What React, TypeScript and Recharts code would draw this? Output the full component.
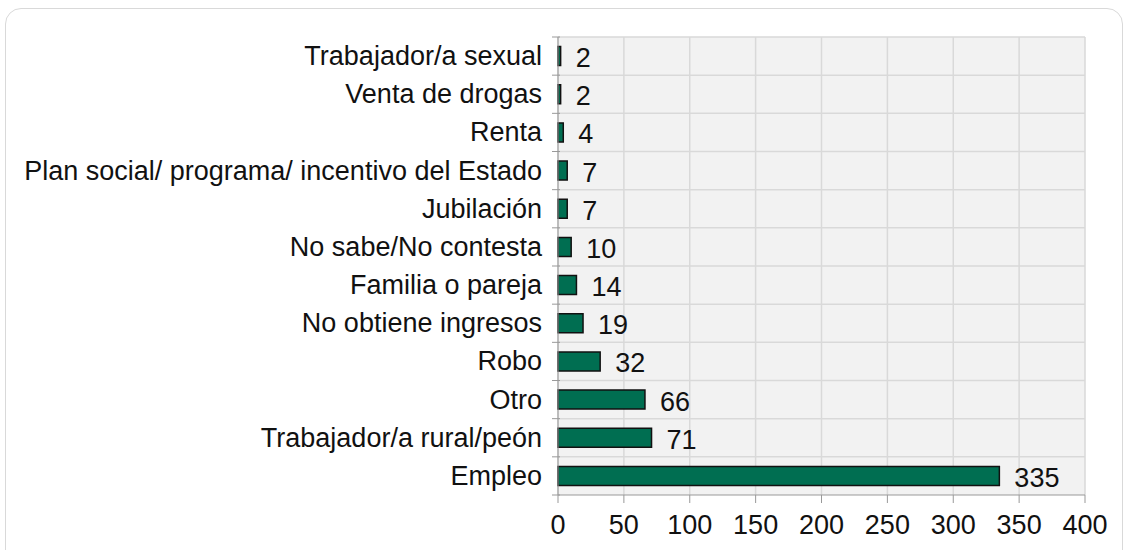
import React from 'react';
import { BarChart, Bar, XAxis, YAxis, CartesianGrid, LabelList } from 'recharts';

const categories = [
  'Empleo',
  'Trabajador/a rural/peón',
  'Otro',
  'Robo',
  'No obtiene ingresos',
  'Familia o pareja',
  'No sabe/No contesta',
  'Jubilación',
  'Plan social/ programa/ incentivo del Estado',
  'Renta',
  'Venta de drogas',
  'Trabajador/a sexual',
];
const values = [335, 71, 66, 32, 19, 14, 10, 7, 7, 4, 2, 2];
const xTicks = [0, 50, 100, 150, 200, 250, 300, 350, 400];

const data = categories.map((name, i) => ({ name, value: values[i] }));

const FONT = 'Liberation Sans, Arial, sans-serif';
const FONT_SIZE = 27;
const MARGIN = { top: 37, right: 44, bottom: 15, left: 0 };
const HEIGHT = 550;
const X_AXIS_H = 40;
const plotH = HEIGHT - MARGIN.top - MARGIN.bottom - X_AXIS_H;
const band = plotH / categories.length;

const CategoryTick: React.FC<any> = ({ x, y, payload, index }) => {
  return (
    <g>
      <line x1={x + 2} x2={x + 10} y1={y - band / 2} y2={y - band / 2} stroke="#999" />
      {index === 0 && (
        <line x1={x + 2} x2={x + 10} y1={y + band / 2} y2={y + band / 2} stroke="#999" />
      )}
      <text x={x - 8} y={y} dy={9} textAnchor="end" fill="#111" fontSize={FONT_SIZE} fontFamily={FONT}>
        {payload.value}
      </text>
    </g>
  );
};

const ValueLabel: React.FC<any> = ({ x, y, width, height, value }) => (
  <text
    x={x + width + 15}
    y={y + height / 2}
    dy={11}
    fill="#111"
    fontSize={FONT_SIZE}
    fontFamily={FONT}
  >
    {value}
  </text>
);

const App: React.FC = () => {
  return (
    <div style={{ position: 'absolute', left: 0, top: 0, width: 1129, height: 550, background: '#fff', overflow: 'hidden' }}>
      <div
        style={{
          position: 'absolute',
          left: 5,
          top: 8,
          width: 1116,
          height: 560,
          border: '1.5px solid #d9d9d9',
          borderRadius: 16,
        }}
      />
      <div style={{ position: 'absolute', left: 0, top: 0 }}>
        <BarChart
          width={1129}
          height={HEIGHT}
          data={data}
          layout="vertical"
          margin={MARGIN}
          barCategoryGap="25%"
        >
          <CartesianGrid
            fill="#f2f2f2"
            stroke="#d9d9d9"
            strokeWidth={1.5}
            horizontalCoordinatesGenerator={({ offset }: any) =>
              categories.map((_, i) => offset.top + (offset.height * i) / categories.length)
            }
          />
          <XAxis
            type="number"
            domain={[0, 400]}
            ticks={xTicks}
            height={X_AXIS_H}
            stroke="#999"
            tickSize={8}
            tick={{ fill: '#111', fontSize: FONT_SIZE, fontFamily: FONT }}
            tickMargin={12}
          />
          <YAxis
            type="category"
            dataKey="name"
            reversed
            width={558}
            stroke="#999"
            tickLine={false}
            tick={<CategoryTick />}
            interval={0}
          />
          <Bar dataKey="value" fill="#006e51" stroke="#111" strokeWidth={1.5} isAnimationActive={false}>
            <LabelList dataKey="value" content={<ValueLabel />} />
          </Bar>
        </BarChart>
      </div>
    </div>
  );
};

export default App;
